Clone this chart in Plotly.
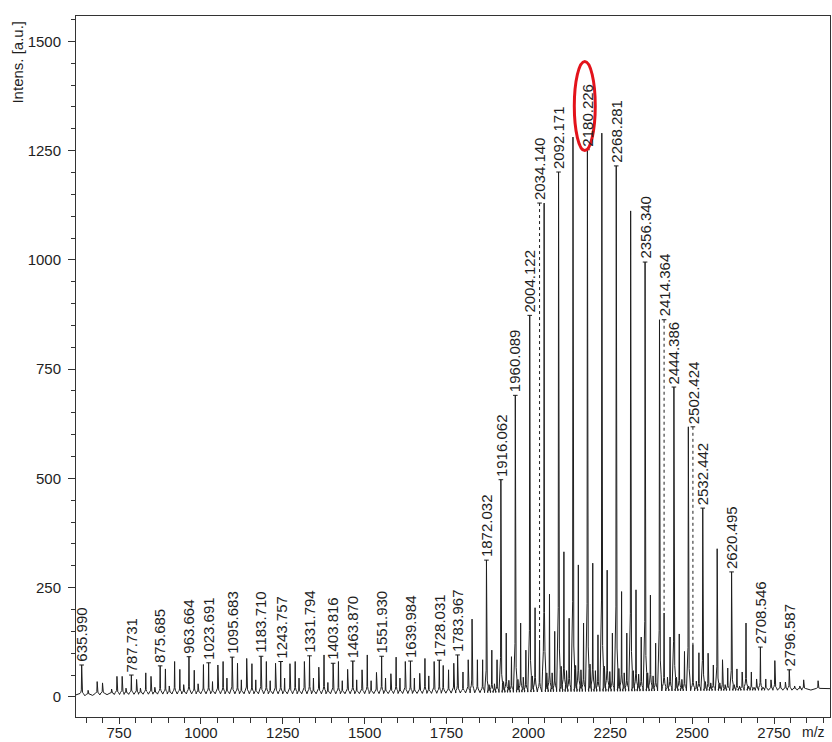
import numpy as np
import plotly.graph_objects as go

# ---- Peak lists (m/z, intensity in a.u.) ----
# Dominant oligomer series, 44 Da repeat
r_mz = [683.33, 727.36, 771.38, 815.41, 859.43, 903.46, 947.49, 991.51, 1035.54, 1079.56,
        1123.59, 1167.62, 1211.64, 1255.67, 1299.69, 1343.72, 1387.75, 1431.77, 1475.80,
        1519.82, 1563.85, 1607.88, 1651.90, 1695.93, 1739.95, 1783.967, 1828.01, 1872.032,
        1916.062, 1960.089, 2004.122, 2048.15, 2092.171, 2136.20, 2180.226, 2224.25,
        2268.281, 2312.31, 2356.340, 2400.36, 2444.386, 2488.41, 2532.442, 2576.47,
        2620.495, 2664.52, 2708.546, 2752.57, 2796.587, 2840.60, 2884.60]
r_int = [35, 18, 20, 20, 22, 25, 28, 30, 35, 43,
         39, 39, 37, 43, 43, 43, 33, 37, 39,
         37, 43, 43, 43, 48, 72, 96, 178, 313,
         497, 690, 873, 1130, 1201, 1281, 1252, 1290,
         1215, 1112, 995, 863, 709, 618, 432, 339,
         286, 169, 114, 83, 62, 39, 37]

# Second series
p_mz = [655.65, 699.68, 743.71, 787.731, 831.76, 875.685, 919.81, 963.664, 1007.86, 1051.89,
        1095.683, 1139.94, 1183.710, 1227.99, 1272.02, 1316.04, 1360.07, 1403.816, 1448.12,
        1492.15, 1536.17, 1580.20, 1624.23, 1668.25, 1712.28, 1756.30, 1800.33, 1844.36,
        1888.38, 1932.41, 1976.43, 2020.46, 2064.49, 2108.51, 2152.54, 2196.56, 2240.59,
        2284.62, 2328.64, 2372.67, 2460.72, 2548.77, 2592.80, 2636.83, 2680.85, 2724.88,
        2768.90, 2812.93]
p_int = [15, 32, 47, 50, 55, 71, 81, 92, 74, 73,
         91, 88, 93, 77, 76, 81, 68, 77, 63,
         62, 56, 53, 81, 54, 81, 62, 57, 85,
         107, 146, 169, 204, 235, 332, 302, 306, 290,
         241, 245, 233, 144, 100, 85, 64, 57, 41,
         34, 25]

# Third series
q_mz = [759.67, 803.69, 847.72, 891.74, 935.77, 979.79, 1023.691, 1067.85, 1111.87, 1155.90,
        1199.92, 1243.757, 1287.98, 1331.794, 1376.03, 1420.06, 1463.870, 1508.11, 1551.930,
        1596.16, 1639.984, 1684.21, 1728.031, 1772.26, 1816.29, 1860.32, 1904.34, 1948.37,
        1992.39, 2080.45, 2124.47, 2168.50, 2212.53, 2256.55, 2300.58, 2344.61, 2388.63,
        2432.66, 2476.69, 2520.71, 2564.74, 2608.76, 2652.79, 2696.82, 2740.84, 2784.87,
        2828.90]
q_int = [47, 40, 47, 64, 63, 61, 78, 81, 77, 76,
         81, 81, 81, 94, 96, 81, 82, 96, 93,
         91, 82, 88, 84, 77, 85, 85, 85, 92,
         107, 150, 180, 169, 142, 146, 146, 137, 123,
         137, 104, 101, 73, 66, 57, 41, 39, 34,
         25]

# Isolated labelled peaks outside the three series
other_mz = [635.990, 2034.140, 2414.364, 2502.424]
other_int = [73, 130, 192, 120]

# Small peaks in the crowded centre of the distribution
minor_mz = [1896.4, 1940.4, 1984.4, 2072.5, 2116.5, 2160.5, 2204.6, 2248.6, 2292.6,
            2336.6, 2380.7, 2424.7, 2468.7, 2512.8, 2556.8, 2600.8, 2644.8, 2688.9,
            1880.0, 1924.1, 1968.1, 2012.1, 2056.2, 2100.2, 2144.2, 2188.2, 2232.3,
            2276.3, 2320.3, 2364.3, 2452.4, 2540.4, 2584.5, 2628.5, 2672.5, 2716.6]
minor_int = [30, 38, 45, 55, 60, 62, 60, 58, 55,
             52, 48, 45, 40, 36, 32, 28, 25, 22,
             28, 35, 40, 48, 55, 70, 72, 75, 70,
             65, 60, 55, 45, 35, 32, 28, 25, 22]

# Chemical-noise baseline
baseline_mz = [600, 660, 700, 800, 1000, 1400, 1700, 1900, 2100, 2300, 2500, 2700, 2950]
baseline_int = [4, 6, 8, 9, 10, 10, 11, 13, 15, 16, 17, 18, 19]

# Peak annotations (m/z as printed)
peak_labels = ["635.990", "787.731", "875.685", "963.664", "1023.691", "1095.683",
               "1183.710", "1243.757", "1331.794", "1403.816", "1463.870", "1551.930",
               "1639.984", "1728.031", "1783.967", "1872.032", "1916.062", "1960.089",
               "2004.122", "2034.140", "2092.171", "2180.226", "2268.281", "2356.340",
               "2414.364", "2444.386", "2502.424", "2532.442", "2620.495", "2708.546",
               "2796.587"]
# labels lifted to the level of a neighbouring peak, joined by a dotted leader
raised_labels = {"2034.140": 2048.15, "2414.364": 2400.36, "2502.424": 2488.41}
highlighted = "2180.226"

X_RANGE = [618.7, 2921]
Y_RANGE = [-46, 1558]

# ---- build the profile trace ----
all_mz = np.array(r_mz + p_mz + q_mz + other_mz + minor_mz, dtype=float)
all_int = np.array(r_int + p_int + q_int + other_int + minor_int, dtype=float)
order = np.argsort(all_mz)
all_mz, all_int = all_mz[order], all_int[order]
peak_height = dict(zip(np.round(all_mz, 3), all_int))

def base_at(m):
    return float(np.interp(m, baseline_mz, baseline_int))

# peak profile: narrow apex with small tailing shoulders
PROFILE = ((-5.0, 0.04), (-2.5, 0.08), (-1.0, 0.16), (0.0, 1.0),
           (1.0, 0.16), (2.5, 0.08), (5.0, 0.04))

xs = [X_RANGE[0]]
ys = [base_at(X_RANGE[0])]
for i, (m, h) in enumerate(zip(all_mz, all_int)):
    b = base_at(m)
    if i > 0:
        mid = 0.5 * (all_mz[i - 1] + m)
        xs.append(mid)
        ys.append(base_at(mid) - 3)
    for dx, f in PROFILE:
        xs.append(m + dx)
        ys.append(b + f * (h - b))
xs.append(X_RANGE[1])
ys.append(base_at(X_RANGE[1]))

FONT = "Liberation Sans, Arial, sans-serif"
INK = "#1e1e1e"

fig = go.Figure()
fig.add_trace(go.Scatter(x=xs, y=ys, mode="lines",
                         line=dict(color=INK, width=1), hoverinfo="skip",
                         showlegend=False))

tick_x, tick_y, lead_x, lead_y = [], [], [], []
annotations = []
for lab in peak_labels:
    m = float(lab)
    h = peak_height[round(m, 3)]
    level = peak_height[round(raised_labels[lab], 3)] if lab in raised_labels else h
    tick_x += [m - 7, m + 7, None]
    tick_y += [level, level, None]
    if lab in raised_labels:
        lead_x += [m, m, None]
        lead_y += [level, h, None]
    annotations.append(dict(x=m, y=level, xref="x", yref="y", text=lab,
                            textangle=-90, showarrow=False, xanchor="center",
                            yanchor="bottom", yshift=1,
                            font=dict(family=FONT, size=15, color=INK)))

fig.add_trace(go.Scatter(x=tick_x, y=tick_y, mode="lines",
                         line=dict(color=INK, width=1), hoverinfo="skip",
                         showlegend=False))
fig.add_trace(go.Scatter(x=lead_x, y=lead_y, mode="lines",
                         line=dict(color=INK, width=1, dash="dot"),
                         hoverinfo="skip", showlegend=False))

# axis captions
annotations.append(dict(xref="paper", yref="paper", x=-0.077, y=0.997,
                        text="Intens. [a.u.]", textangle=-90, showarrow=False,
                        xanchor="center", yanchor="top",
                        font=dict(family=FONT, size=15, color=INK)))
annotations.append(dict(xref="paper", yref="paper", x=0.996, y=-0.022,
                        text="m/z", showarrow=False, xanchor="right",
                        yanchor="middle",
                        font=dict(family=FONT, size=14, color=INK)))

hm = float(highlighted)
hl = peak_height[round(hm, 3)]
shapes = [dict(type="circle", xref="x", yref="y",
               x0=hm - 40, x1=hm + 24, y0=hl - 2, y1=hl + 202,
               line=dict(color="#e3131b", width=3))]

axis_common = dict(showline=True, linecolor="#333333", linewidth=1, mirror=True,
                   ticks="outside", tickcolor="#333333",
                   showgrid=False, zeroline=False,
                   tickfont=dict(family=FONT, size=15, color=INK))

fig.update_layout(
    width=832, height=742,
    margin=dict(l=76, r=2, t=16, b=25, autoexpand=False),
    paper_bgcolor="white", plot_bgcolor="white",
    annotations=annotations, shapes=shapes,
    xaxis=dict(range=X_RANGE, tick0=0, dtick=250, ticklen=6,
               ticklabelstandoff=-4,
               minor=dict(dtick=50, ticklen=5, ticks="outside", tickcolor="#333333"),
               **axis_common),
    yaxis=dict(range=Y_RANGE, tick0=0, dtick=250, ticklen=7, ticklabelstandoff=4,
               minor=dict(dtick=50, ticklen=4, ticks="outside", tickcolor="#333333"),
               **axis_common),
)

fig.write_html("out.html")
